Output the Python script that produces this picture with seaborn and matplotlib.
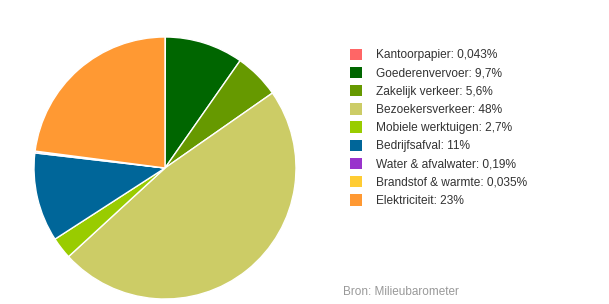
import matplotlib
matplotlib.use("Agg")
import matplotlib.pyplot as plt
import seaborn as sns

categories = ["Kantoorpapier", "Goederenvervoer", "Zakelijk verkeer", "Bezoekersverkeer",
              "Mobiele werktuigen", "Bedrijfsafval", "Water & afvalwater",
              "Brandstof & warmte", "Elektriciteit"]
values = [0.043, 9.7, 5.6, 48, 2.7, 11, 0.19, 0.035, 23]
value_labels = ["0,043%", "9,7%", "5,6%", "48%", "2,7%", "11%", "0,19%", "0,035%", "23%"]
colors = ["#ff6666", "#006600", "#669900", "#cccc66", "#99cc00", "#006699",
          "#9933cc", "#ffcc33", "#ff9933"]

sns.set_theme(style="white")
plt.rcParams["font.family"] = ["Liberation Sans", "DejaVu Sans"]

fig = plt.figure(figsize=(6.09, 3.04), dpi=100)
ax = fig.add_axes([34 / 609, (304 - 168 - 131) / 304, 262 / 609, 262 / 304])
wedges, _ = ax.pie(values, colors=colors, startangle=90, counterclock=False,
                   wedgeprops=dict(edgecolor="white", linewidth=1))
ax.set_aspect("equal")
ax.set_xlim(-1, 1)
ax.set_ylim(-1, 1)
ax.axis("off")

labels = [f"{c}: {v}" for c, v in zip(categories, value_labels)]
leg = fig.legend(wedges, labels, loc="upper left",
                 bbox_to_anchor=(346 / 609, 1 - 45 / 304),
                 frameon=False, fontsize=8.6, handlelength=1.08, handleheight=1.08,
                 handletextpad=1.15, labelspacing=0.46, borderaxespad=0, borderpad=0.3)
for t in leg.get_texts():
    t.set_color("#333333")
for h in leg.legend_handles:
    h.set_edgecolor("none")

fig.text(343 / 609, 1 - 292 / 304, "Bron: Milieubarometer", fontsize=8.5,
         color="#999999", va="center", ha="left")

fig.savefig("out.png", dpi=100)
